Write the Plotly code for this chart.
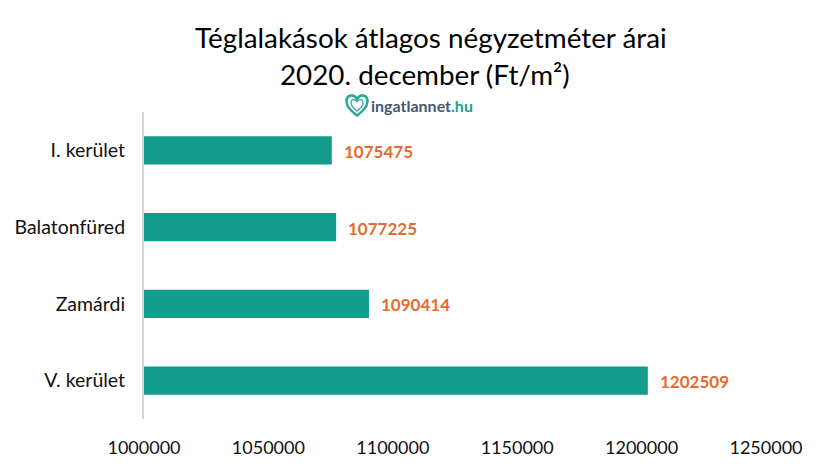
import plotly.graph_objects as go

categories = ["I. kerület", "Balatonfüred", "Zamárdi", "V. kerület"]
values = [1075475, 1077225, 1090414, 1202509]
tick_values = [1000000, 1050000, 1100000, 1150000, 1200000, 1250000]
title_lines = ["Téglalakások átlagos négyzetméter árai", "2020. december (Ft/m²)"]

W, H = 818, 464  # the page adds an 8 px body margin, so the drawing starts at (8, 8)
FONT = "Lato, Carlito, sans-serif"
TEAL = "#129C8C"
ORANGE = "#E46C2E"

fig = go.Figure(go.Bar(
    x=values, y=categories, orientation="h",
    marker=dict(color=TEAL, line=dict(width=0)),
    base=0, hoverinfo="x+y",
))

annotations = [
    dict(x=v, y=c, xref="x", yref="y", text=f"<b>{v}</b>", showarrow=False,
         xanchor="left", yanchor="middle", xshift=10, yshift=-1,
         font=dict(family=FONT, size=17, color=ORANGE))
    for v, c in zip(values, categories)
]


def px(x):
    return (x - 144) / 622


def py(y):
    return (419 - y) / 307


# title (two separately centred lines, as in the reference)
for line, cx, cy in zip(title_lines, [430.5, 425], [38, 75]):
    annotations.append(dict(
        x=px(cx), y=py(cy), xref="paper", yref="paper", xanchor="center", yanchor="middle",
        text=line, showarrow=False,
        font=dict(family=FONT, size=27.8, color="#000000"),
    ))
# logo text
annotations.append(dict(
    x=px(369), y=py(105), xref="paper", yref="paper", xanchor="left", yanchor="middle",
    text="<b><span style='color:#4A5672'>ingatlannet</span><span style='color:#1FA08F'>.hu</span></b>",
    showarrow=False, font=dict(family=FONT, size=16),
))


def heart(cx, cy, s):
    p = lambda a, b: f"{px(cx + a * s):.5f},{py(cy + b * s):.5f}"
    return (f"M {p(0, 1)} C {p(-0.5, 0.6)} {p(-1, 0.2)} {p(-1, -0.35)} "
            f"C {p(-1, -1)} {p(-0.25, -1.1)} {p(0, -0.55)} "
            f"C {p(0.25, -1.1)} {p(1, -1)} {p(1, -0.35)} "
            f"C {p(1, 0.2)} {p(0.5, 0.6)} {p(0, 1)} Z")


shapes = [
    dict(type="path", xref="paper", yref="paper", path=heart(357, 105, 10.5),
         line=dict(color="#2BA597", width=2.5), fillcolor="white"),
    dict(type="path", xref="paper", yref="paper", path=heart(357, 105, 6),
         line=dict(color="#2BA597", width=1.2), fillcolor="white"),
]

fig.update_layout(
    width=W, height=H,
    margin=dict(l=136, r=60, t=104, b=53, pad=0, autoexpand=False),
    paper_bgcolor="white", plot_bgcolor="white",
    showlegend=False, bargap=0.635,
    annotations=annotations, shapes=shapes,
    font=dict(family=FONT, color="#000000"),
    xaxis=dict(
        range=[1000000, 1250000], tickvals=tick_values,
        ticktext=[str(t) for t in tick_values], showgrid=False, zeroline=False,
        showline=False, ticks="", ticklen=0, automargin=False,
        ticklabelstandoff=16,
        tickfont=dict(family=FONT, size=18, color="#111111"),
    ),
    yaxis=dict(
        autorange="reversed", showgrid=False, zeroline=False,
        showline=True, linecolor="#D4D4D4", linewidth=2, ticks="",
        ticklabelstandoff=13, automargin=False,
        tickfont=dict(family=FONT, size=19.5, color="#111111"),
    ),
)

fig.write_html("out.html")
